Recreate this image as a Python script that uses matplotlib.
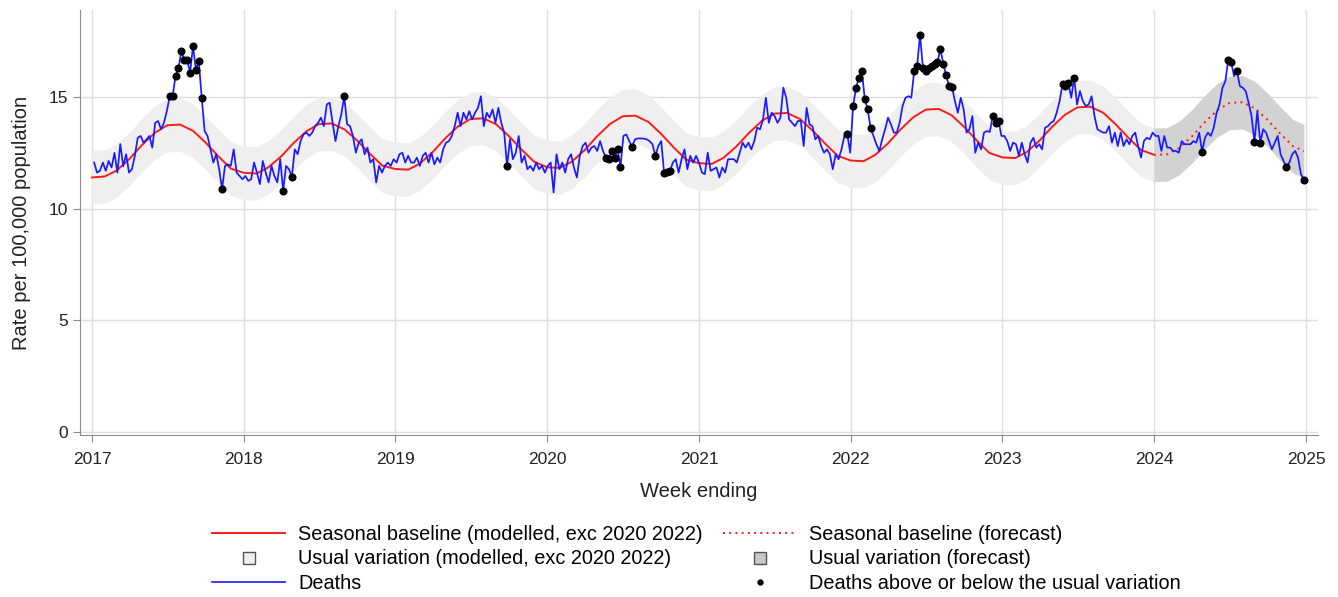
import pandas as pd
import matplotlib.pyplot as plt
import matplotlib.dates as mdates
from matplotlib.lines import Line2D

plt.rcParams['font.family'] = ['Liberation Sans', 'DejaVu Sans']

# weekly death rates per 100,000 (week ending Friday), one list per year
deaths_2017 = [12.07, 11.62, 11.70, 12.07, 11.70, 12.14, 11.85, 12.50, 11.62, 12.90,
               11.90, 12.44, 11.62, 11.77, 12.37, 13.18, 13.26, 12.96, 13.10, 13.26,
               12.74, 13.85, 13.93, 13.56, 13.85, 14.37, 15.04, 15.04, 15.94, 16.30,
               17.05, 16.68, 16.68, 16.09, 17.28, 16.23, 16.60, 14.97, 13.48, 13.26,
               12.66, 12.07, 12.44, 11.77, 10.88, 11.92, 11.99, 11.92, 12.66, 11.62,
               11.47, 11.32]
deaths_2018 = [11.47, 11.25, 11.32, 12.07, 11.62, 11.10, 12.14, 11.62, 11.18, 11.92,
               11.47, 11.18, 12.22, 10.80, 11.92, 11.77, 11.44, 12.66, 12.44, 13.03,
               13.33, 13.41, 13.26, 13.41, 13.70, 13.85, 14.08, 13.70, 14.67, 14.75,
               13.85, 13.03, 13.70, 14.23, 15.04, 13.78, 13.70, 13.26, 12.51, 12.96,
               13.11, 12.44, 12.74, 12.07, 12.22, 11.18, 11.92, 11.62, 11.92, 12.07,
               11.92, 12.22]
deaths_2019 = [12.07, 12.44, 12.51, 12.07, 12.37, 12.07, 12.07, 12.29, 11.92, 12.37,
               12.51, 12.07, 12.51, 11.99, 12.29, 12.07, 12.66, 12.96, 13.03, 13.26,
               13.70, 14.30, 13.70, 14.30, 14.00, 14.37, 14.00, 14.30, 14.52, 15.04,
               13.70, 14.30, 14.08, 14.45, 13.85, 14.52, 13.85, 13.41, 11.92, 13.11,
               12.22, 12.51, 13.26, 12.07, 12.37, 11.77, 11.92, 11.70, 12.07, 11.77,
               11.92, 11.62]
deaths_2020 = [11.92, 12.07, 10.73, 12.44, 11.77, 12.07, 11.62, 12.22, 12.44, 11.85,
               11.40, 12.37, 12.81, 12.96, 12.51, 12.74, 12.81, 12.59, 13.03, 12.59,
               12.29, 12.22, 12.59, 12.29, 12.66, 11.89, 13.26, 13.33, 13.03, 12.78,
               13.11, 13.15, 13.15, 13.14, 13.11, 13.03, 12.89, 12.37, 12.81, 13.03,
               11.62, 11.65, 11.67, 12.07, 12.22, 11.62, 12.22, 12.66, 11.77, 12.37,
               12.07, 12.37]
deaths_2021 = [12.07, 11.62, 11.55, 12.51, 11.70, 11.77, 11.85, 11.40, 11.85, 11.62,
               12.22, 12.22, 12.22, 12.07, 12.51, 12.96, 12.74, 12.96, 12.66, 13.03,
               13.63, 13.56, 14.00, 14.97, 13.85, 14.30, 14.15, 13.85, 14.08, 15.42,
               14.97, 14.00, 13.85, 13.70, 13.93, 13.93, 12.81, 14.52, 13.78, 13.70,
               13.11, 13.26, 12.81, 12.51, 12.66, 12.44, 11.77, 12.44, 12.22, 12.66,
               13.26, 13.33, 12.51]
deaths_2022 = [14.60, 15.42, 15.86, 16.16, 14.93, 14.45, 13.63, 13.26, 12.89, 12.59,
               13.11, 13.56, 14.08, 13.78, 13.41, 13.41, 13.85, 14.60, 14.97, 15.04,
               14.97, 16.16, 16.38, 17.80, 16.31, 16.16, 16.31, 16.41, 16.46, 16.56,
               17.16, 16.50, 15.97, 15.49, 15.46, 14.82, 14.30, 14.97, 14.45, 13.41,
               13.56, 14.15, 12.51, 12.96, 12.66, 13.41, 13.48, 13.44, 14.15, 13.85,
               13.93, 13.26]
deaths_2023 = [13.26, 13.03, 12.59, 12.96, 12.89, 12.37, 12.96, 12.44, 12.07, 12.96,
               13.18, 12.74, 12.89, 12.66, 13.63, 13.70, 13.85, 13.93, 14.30, 14.82,
               15.57, 15.49, 15.64, 14.97, 15.86, 14.67, 15.27, 14.82, 14.60, 14.67,
               15.04, 14.15, 13.56, 13.48, 13.41, 13.41, 13.70, 12.96, 13.41, 12.81,
               13.41, 12.81, 13.11, 12.89, 13.26, 13.41, 12.81, 12.29, 13.03, 13.18,
               13.11, 13.41]
deaths_2024 = [13.26, 13.26, 12.59, 13.26, 12.74, 12.74, 12.59, 12.59, 12.51, 13.03,
               12.89, 12.89, 12.89, 13.03, 12.96, 13.41, 12.56, 13.18, 13.41, 13.26,
               13.63, 14.30, 14.67, 15.42, 15.71, 16.68, 16.56, 15.94, 16.16, 15.49,
               15.42, 15.27, 14.75, 14.15, 13.00, 14.37, 12.96, 13.56, 13.41, 13.03,
               12.66, 12.96, 13.26, 12.44, 12.14, 11.85, 12.07, 12.44, 12.59, 12.29,
               11.55, 11.30]

# weeks (index within each year's list) falling outside the usual variation
outside_weeks = {
    2017: [26, 27, 28, 29, 30, 31, 32, 33, 34, 35, 36, 37, 44],
    2018: [13, 16, 34],
    2019: [38],
    2020: [20, 21, 22, 23, 24, 25, 29, 37, 40, 41, 42],
    2021: [51],
    2022: [0, 1, 2, 3, 4, 5, 6, 21, 22, 23, 24, 25, 26, 27, 28, 29, 30, 31, 32,
           33, 34, 48, 49, 50],
    2023: [20, 21, 22, 24],
    2024: [16, 25, 26, 28, 34, 36, 45, 51],
}

# seasonal baseline, first of each month Jan 2017 .. Jan 2024
baseline_modelled = [11.40, 11.45, 11.71, 12.23, 12.85, 13.40, 13.74, 13.77, 13.49, 12.97, 12.35, 11.80,
                     11.61, 11.58, 11.85, 12.34, 12.94, 13.47, 13.79, 13.82, 13.55, 13.06, 12.46, 11.93,
                     11.78, 11.75, 12.02, 12.54, 13.15, 13.69, 14.02, 14.05, 13.78, 13.26, 12.65, 12.11,
                     11.86, 11.83, 12.11, 12.63, 13.25, 13.80, 14.14, 14.17, 13.89, 13.37, 12.75, 12.20,
                     12.04, 12.01, 12.28, 12.79, 13.39, 13.93, 14.26, 14.29, 14.02, 13.51, 12.91, 12.37,
                     12.16, 12.13, 12.41, 12.93, 13.55, 14.10, 14.44, 14.47, 14.19, 13.67, 13.05, 12.50,
                     12.30, 12.27, 12.54, 13.06, 13.67, 14.21, 14.54, 14.57, 14.30, 13.78, 13.17, 12.63,
                     12.42]
# forecast baseline, first of each month of 2024, then last week of 2024
baseline_forecast = [12.42, 12.43, 12.71, 13.23, 13.85, 14.40, 14.74, 14.77, 14.49, 13.97, 13.35, 12.80,
                     12.58]
usual_halfwidth = 1.2

# ---- assemble
year_lists = {2017: deaths_2017, 2018: deaths_2018, 2019: deaths_2019, 2020: deaths_2020,
              2021: deaths_2021, 2022: deaths_2022, 2023: deaths_2023, 2024: deaths_2024}
deaths = []
flag_pos = []
for yr, vals in year_lists.items():
    flag_pos += [len(deaths) + i for i in outside_weeks[yr]]
    deaths += vals
weeks = pd.date_range('2017-01-06', periods=len(deaths), freq='7D')
deaths = pd.Series(deaths, index=weeks)

base_dates = pd.date_range('2017-01-01', '2024-01-01', freq='MS')
base = pd.Series(baseline_modelled, index=base_dates)
fc_dates = list(pd.date_range('2024-01-01', '2024-12-01', freq='MS')) + [pd.Timestamp('2024-12-27')]
fc = pd.Series(baseline_forecast, index=pd.DatetimeIndex(fc_dates))

# ---- plot
fig = plt.figure(figsize=(13.38, 5.97), dpi=100)
ax = fig.add_axes([80 / 1338, 1 - 435 / 597, 1238 / 1338, 425 / 597])

light_band = '#efefef'
dark_band = '#d2d2d2'
ax.fill_between(base.index, base - usual_halfwidth, base + usual_halfwidth,
                color=light_band, lw=0, zorder=1)
ax.fill_between(fc.index, fc - usual_halfwidth, fc + usual_halfwidth,
                color=dark_band, lw=0, zorder=1)
ax.plot(base.index, base.values, color='#ff1a1a', lw=1.4, zorder=2)
ax.plot(fc.index, fc.values, color='#ff1a1a', lw=1.4, ls=(0, (1, 2.2)), zorder=2)
ax.plot(deaths.index, deaths.values, color='#1a1aff', lw=1.25, zorder=3)
ax.plot(deaths.index[flag_pos], deaths.values[flag_pos], 'o', color='black', ms=4.8, zorder=4)

ax.set_xlim(pd.Timestamp('2016-12-03'), pd.Timestamp('2025-01-30'))
ax.set_ylim(-0.13, 18.9)
ax.set_yticks([0, 5, 10, 15])
ax.xaxis.set_major_locator(mdates.YearLocator())
ax.xaxis.set_major_formatter(mdates.DateFormatter('%Y'))

ax.grid(color='#dedede', lw=1)
ax.set_axisbelow(True)
for s in ['top', 'right']:
    ax.spines[s].set_visible(False)
for s in ['left', 'bottom']:
    ax.spines[s].set_color('#8c8c8c')
ax.tick_params(colors='#8c8c8c', labelcolor='#222222', labelsize=12.5, length=5)
ax.tick_params(axis='x', pad=7)

ax.set_ylabel('Rate per 100,000 population', fontsize=14.5, color='#222222', labelpad=13)
ax.set_xlabel('Week ending', fontsize=14.5, color='#222222', labelpad=11)

handles = [
    Line2D([], [], color='#ff1a1a', lw=1.4),
    Line2D([], [], marker='s', ls='none', mfc=light_band, mec='#555555', ms=9),
    Line2D([], [], color='#1a1aff', lw=1.2),
    Line2D([], [], color='#ff1a1a', lw=1.4, ls=(0, (1, 2.2))),
    Line2D([], [], marker='s', ls='none', mfc='#c8c8c8', mec='#555555', ms=9),
    Line2D([], [], marker='o', ls='none', color='black', ms=3.5),
]
labels = [
    'Seasonal baseline (modelled, exc 2020 2022)',
    'Usual variation (modelled, exc 2020 2022)',
    'Deaths',
    'Seasonal baseline (forecast)',
    'Usual variation (forecast)',
    'Deaths above or below the usual variation',
]
fig.legend(handles, labels, ncol=2, loc='upper center', bbox_to_anchor=(0.5205, 0.151),
           frameon=False, fontsize=14.3, handlelength=3.7, columnspacing=1.0,
           handletextpad=0.65, labelspacing=0.29)

fig.savefig('out.png', dpi=100)
